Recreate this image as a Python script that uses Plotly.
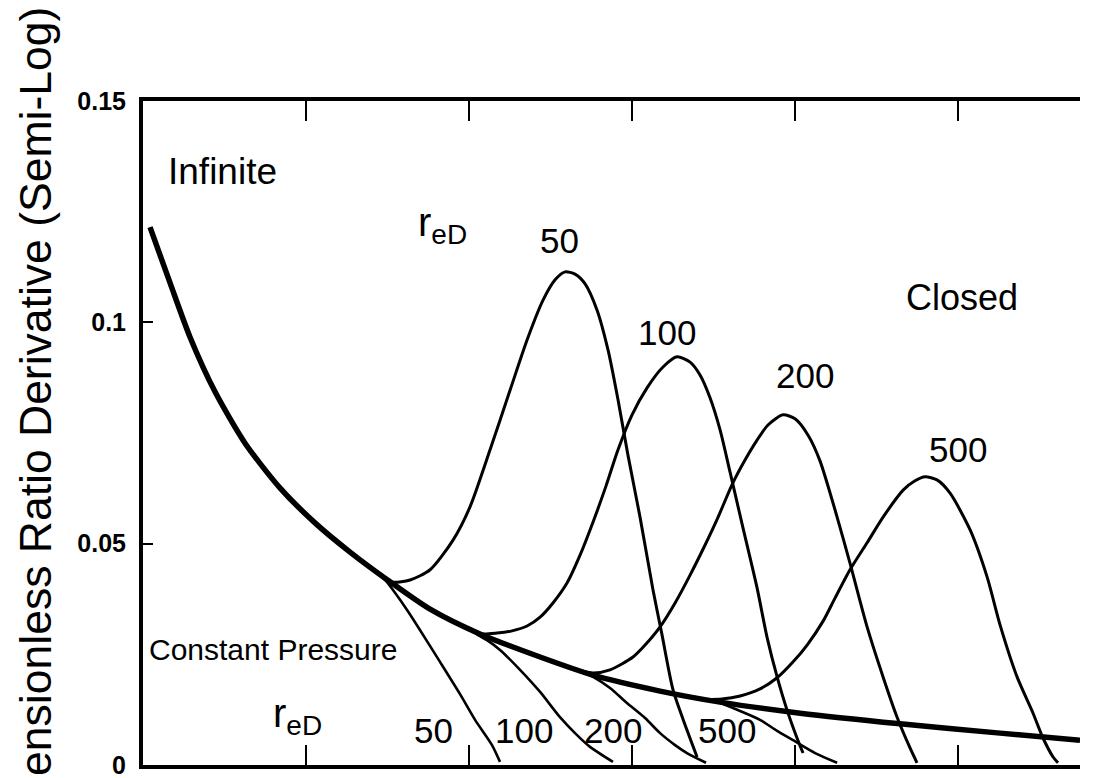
import plotly.graph_objects as go

# x: log10 of dimensionless time, y: semi-log derivative of the dimensionless ratio
infinite_logt = [1.043, 1.166, 1.288, 1.442, 1.626, 1.840, 2.055, 2.270, 2.485, 2.761,
                 3.067, 3.436, 3.761, 4.172, 4.540, 5.031, 5.644, 6.258, 6.748]
infinite_val = [0.1215, 0.1089, 0.0967, 0.0843, 0.0727, 0.0626, 0.0547, 0.0481, 0.0422, 0.0352,
                0.0296, 0.0244, 0.0203, 0.0167, 0.0142, 0.0117, 0.0093, 0.0072, 0.0056]

# closed outer boundary, reD = 50, 100, 200, 500
closed_50_logt = [2.423, 2.485, 2.534, 2.638, 2.761, 2.902, 3.006, 3.129, 3.252, 3.356,
                  3.454, 3.528, 3.589, 3.650, 3.712, 3.785, 3.853, 3.914, 3.975, 4.049,
                  4.129, 4.184, 4.252, 4.337, 4.399]
closed_50_val = [0.0439, 0.0422, 0.0413, 0.0418, 0.0441, 0.0508, 0.0583, 0.0712, 0.0847, 0.0960,
                 0.1050, 0.1096, 0.1114, 0.1109, 0.1087, 0.1028, 0.0937, 0.0825, 0.0700, 0.0560,
                 0.0395, 0.0294, 0.0169, 0.0079, 0.0018]

closed_100_logt = [2.994, 3.080, 3.172, 3.264, 3.356, 3.436, 3.515, 3.601, 3.681, 3.761,
                   3.840, 3.914, 4.000, 4.092, 4.190, 4.276, 4.356, 4.417, 4.479, 4.540,
                   4.601, 4.681, 4.767, 4.828, 4.890, 4.951, 5.012, 5.049]
closed_100_val = [0.0309, 0.0296, 0.0298, 0.0303, 0.0314, 0.0334, 0.0366, 0.0411, 0.0474, 0.0549,
                  0.0630, 0.0712, 0.0791, 0.0852, 0.0899, 0.0922, 0.0910, 0.0881, 0.0829, 0.0757,
                  0.0662, 0.0535, 0.0400, 0.0289, 0.0199, 0.0124, 0.0061, 0.0027]

closed_200_logt = [3.669, 3.761, 3.865, 4.006, 4.080, 4.172, 4.264, 4.356, 4.448, 4.528,
                   4.613, 4.693, 4.767, 4.834, 4.926, 5.000, 5.080, 5.153, 5.258, 5.337,
                   5.442, 5.540, 5.626, 5.706, 5.748]
closed_200_val = [0.0215, 0.0208, 0.0215, 0.0244, 0.0271, 0.0312, 0.0366, 0.0429, 0.0497, 0.0560,
                  0.0633, 0.0689, 0.0734, 0.0768, 0.0791, 0.0782, 0.0745, 0.0687, 0.0560, 0.0456,
                  0.0312, 0.0199, 0.0108, 0.0038, 0.0005]

closed_500_logt = [4.448, 4.552, 4.663, 4.785, 4.890, 4.988, 5.074, 5.172, 5.245, 5.337,
                   5.442, 5.540, 5.663, 5.736, 5.798, 5.871, 5.951, 6.074, 6.178, 6.258,
                   6.362, 6.460, 6.521, 6.583, 6.613]
closed_500_val = [0.0148, 0.0149, 0.0156, 0.0172, 0.0197, 0.0233, 0.0271, 0.0325, 0.0377, 0.0441,
                  0.0502, 0.0560, 0.0621, 0.0642, 0.0651, 0.0644, 0.0614, 0.0531, 0.0425, 0.0316,
                  0.0199, 0.0117, 0.0061, 0.0018, 0.0005]

# constant-pressure outer boundary, reD = 50, 100, 200, 500
cp_50_logt = [2.423, 2.485, 2.546, 2.620, 2.699, 2.822, 2.945, 3.037, 3.141, 3.190]
cp_50_val = [0.0439, 0.0418, 0.0389, 0.0350, 0.0305, 0.0233, 0.0160, 0.0102, 0.0045, 0.0007]
cp_100_logt = [3.006, 3.067, 3.110, 3.190, 3.313, 3.436, 3.558, 3.650, 3.742, 3.883]
cp_100_val = [0.0307, 0.0291, 0.0282, 0.0260, 0.0215, 0.0165, 0.0108, 0.0072, 0.0041, 0.0007]
cp_200_logt = [3.681, 3.761, 3.865, 3.969, 4.080, 4.172, 4.264, 4.337, 4.454]
cp_200_val = [0.0213, 0.0199, 0.0174, 0.0140, 0.0106, 0.0072, 0.0045, 0.0027, 0.0005]
cp_500_logt = [4.448, 4.540, 4.663, 4.785, 4.890, 4.988, 5.123, 5.258]
cp_500_val = [0.0148, 0.0140, 0.0122, 0.0102, 0.0077, 0.0056, 0.0027, 0.0005]

y_tick_vals = [0, 0.05, 0.1, 0.15]
y_tick_text = ["0", "0.05", "0.1", "0.15"]
x_tick_vals = [2, 3, 4, 5, 6]

FONT = "Liberation Sans, Arial, Helvetica, sans-serif"

fig = go.Figure()

def add_curve(x, y, width):
    fig.add_trace(go.Scatter(
        x=x, y=y, mode="lines",
        line=dict(color="black", width=width, shape="spline", smoothing=0.7),
        showlegend=False, hoverinfo="skip",
    ))

for xs, ys in [(cp_50_logt, cp_50_val), (cp_100_logt, cp_100_val),
               (cp_200_logt, cp_200_val), (cp_500_logt, cp_500_val)]:
    add_curve(xs, ys, 2.6)

for xs, ys in [(closed_50_logt, closed_50_val), (closed_100_logt, closed_100_val),
               (closed_200_logt, closed_200_val), (closed_500_logt, closed_500_val)]:
    add_curve(xs, ys, 3)

add_curve(infinite_logt, infinite_val, 5.5)

labels = [
    # text, x (log t), y, size, xanchor
    ("Infinite", 1.485, 0.134, 37, "center"),
    ("Closed", 6.025, 0.1055, 36, "center"),
    ("r<sub>eD</sub>", 2.840, 0.122, 40, "center"),
    ("50", 3.558, 0.1186, 35, "center"),
    ("100", 4.215, 0.0976, 35, "center"),
    ("200", 5.061, 0.0879, 35, "center"),
    ("500", 6.000, 0.0712, 35, "center"),
    ("Constant Pressure", 1.025, 0.026, 30, "left"),
    ("r<sub>eD</sub>", 1.945, 0.0111, 40, "center"),
    ("50", 2.785, 0.0077, 35, "center"),
    ("100", 3.337, 0.0077, 35, "center"),
    ("200", 3.883, 0.0077, 35, "center"),
    ("500", 4.583, 0.0077, 35, "center"),
]
for text, x, y, size, xa in labels:
    fig.add_annotation(
        x=x, y=y, xref="x", yref="y", text=text, showarrow=False,
        xanchor=xa, yanchor="middle",
        font=dict(family=FONT, size=size, color="black"),
    )

# vertical axis title, running off the bottom edge of the page
fig.add_annotation(
    x=-0.1142, y=1.1446, xref="paper", yref="paper",
    text="Dimensionless Ratio Derivative (Semi-Log)",
    textangle=-90, showarrow=False, xanchor="center", yanchor="top",
    font=dict(family=FONT, size=44.5, color="black"),
)

fig.update_layout(
    width=1109, height=778,
    margin=dict(l=143, r=29, t=101, b=13, autoexpand=False),
    paper_bgcolor="white", plot_bgcolor="white",
    font=dict(family=FONT, color="black"),
    xaxis=dict(
        range=[1, 6.748], tickvals=x_tick_vals, showticklabels=False,
        ticks="inside", ticklen=20, tickwidth=2, tickcolor="black",
        showline=True, linewidth=3.5, linecolor="black", mirror="ticks",
        showgrid=False, zeroline=False, automargin=False,
    ),
    yaxis=dict(
        range=[0, 0.15], tickvals=y_tick_vals, ticktext=y_tick_text,
        ticks="inside", ticklen=10, tickwidth=2, tickcolor="black",
        tickfont=dict(family=FONT, size=25, color="black", weight=700),
        ticklabelstandoff=8, ticklabeloverflow="allow",
        showline=True, linewidth=4, linecolor="black", mirror=False,
        showgrid=False, zeroline=False, automargin=False,
    ),
)

fig.write_html("out.html")
